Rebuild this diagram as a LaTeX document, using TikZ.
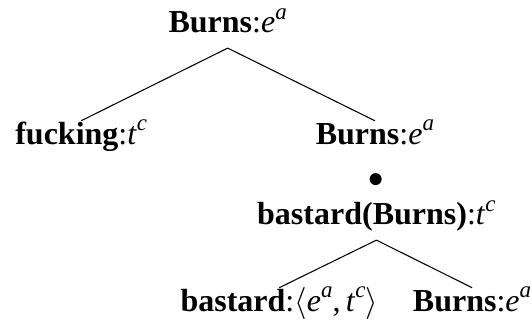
\documentclass[tikz,border=0pt]{standalone}
\usepackage{fontspec}
\setmainfont{Liberation Serif}
\usepackage{tikz}
\def\semtype#1#2{\textit{#1}\raisebox{0.42em}{\fontsize{8.6}{10}\selectfont\textit{#2}}}
\tikzset{
	tnode/.style={anchor=base, inner sep=0pt, text height=8.6pt, text depth=5.6pt, font=\fontsize{12}{14}\selectfont},
	bullet/.style={circle, fill=black, inner sep=0pt, minimum size=4.5pt}
}

\begin{document}
\begin{tikzpicture}
			%%%%% START %%%%%
			\useasboundingbox (0, 0) rectangle (7.01, 4.23);
			
			\node[tnode] (root) at (3, 3.8) {\textbf{Burns}:\semtype{e}{a}};
			
			\node[tnode] (fucking) at (1.07, 2.33) {\textbf{fucking}:\semtype{t}{c}};
			\node[tnode] (burns) at (4.94, 2.33) {\textbf{Burns}:\semtype{e}{a}};
			
			\node[bullet] (comp) at (4.95, 1.87) {};
			
			\node[tnode] (bastardburns) at (4.96, 1.27) {\textbf{bastard(Burns)}:\semtype{t}{c}};
			
			\node[tnode] (bastard) at (3.68, 0.13) {\textbf{bastard}:$\langle$\semtype{e}{a},\,\semtype{t}{c}$\rangle$};
			\node[tnode] (burnsarg) at (6.22, 0.13) {\textbf{Burns}:\semtype{e}{a}};
			
			\draw (root.south) -- (fucking.north);
			\draw (root.south) -- (burns.north);
			\draw (bastardburns.south) -- (bastard.north);
			\draw (bastardburns.south) -- (burnsarg.north);
			%%%%% END %%%%%
		\end{tikzpicture}
\end{document}
